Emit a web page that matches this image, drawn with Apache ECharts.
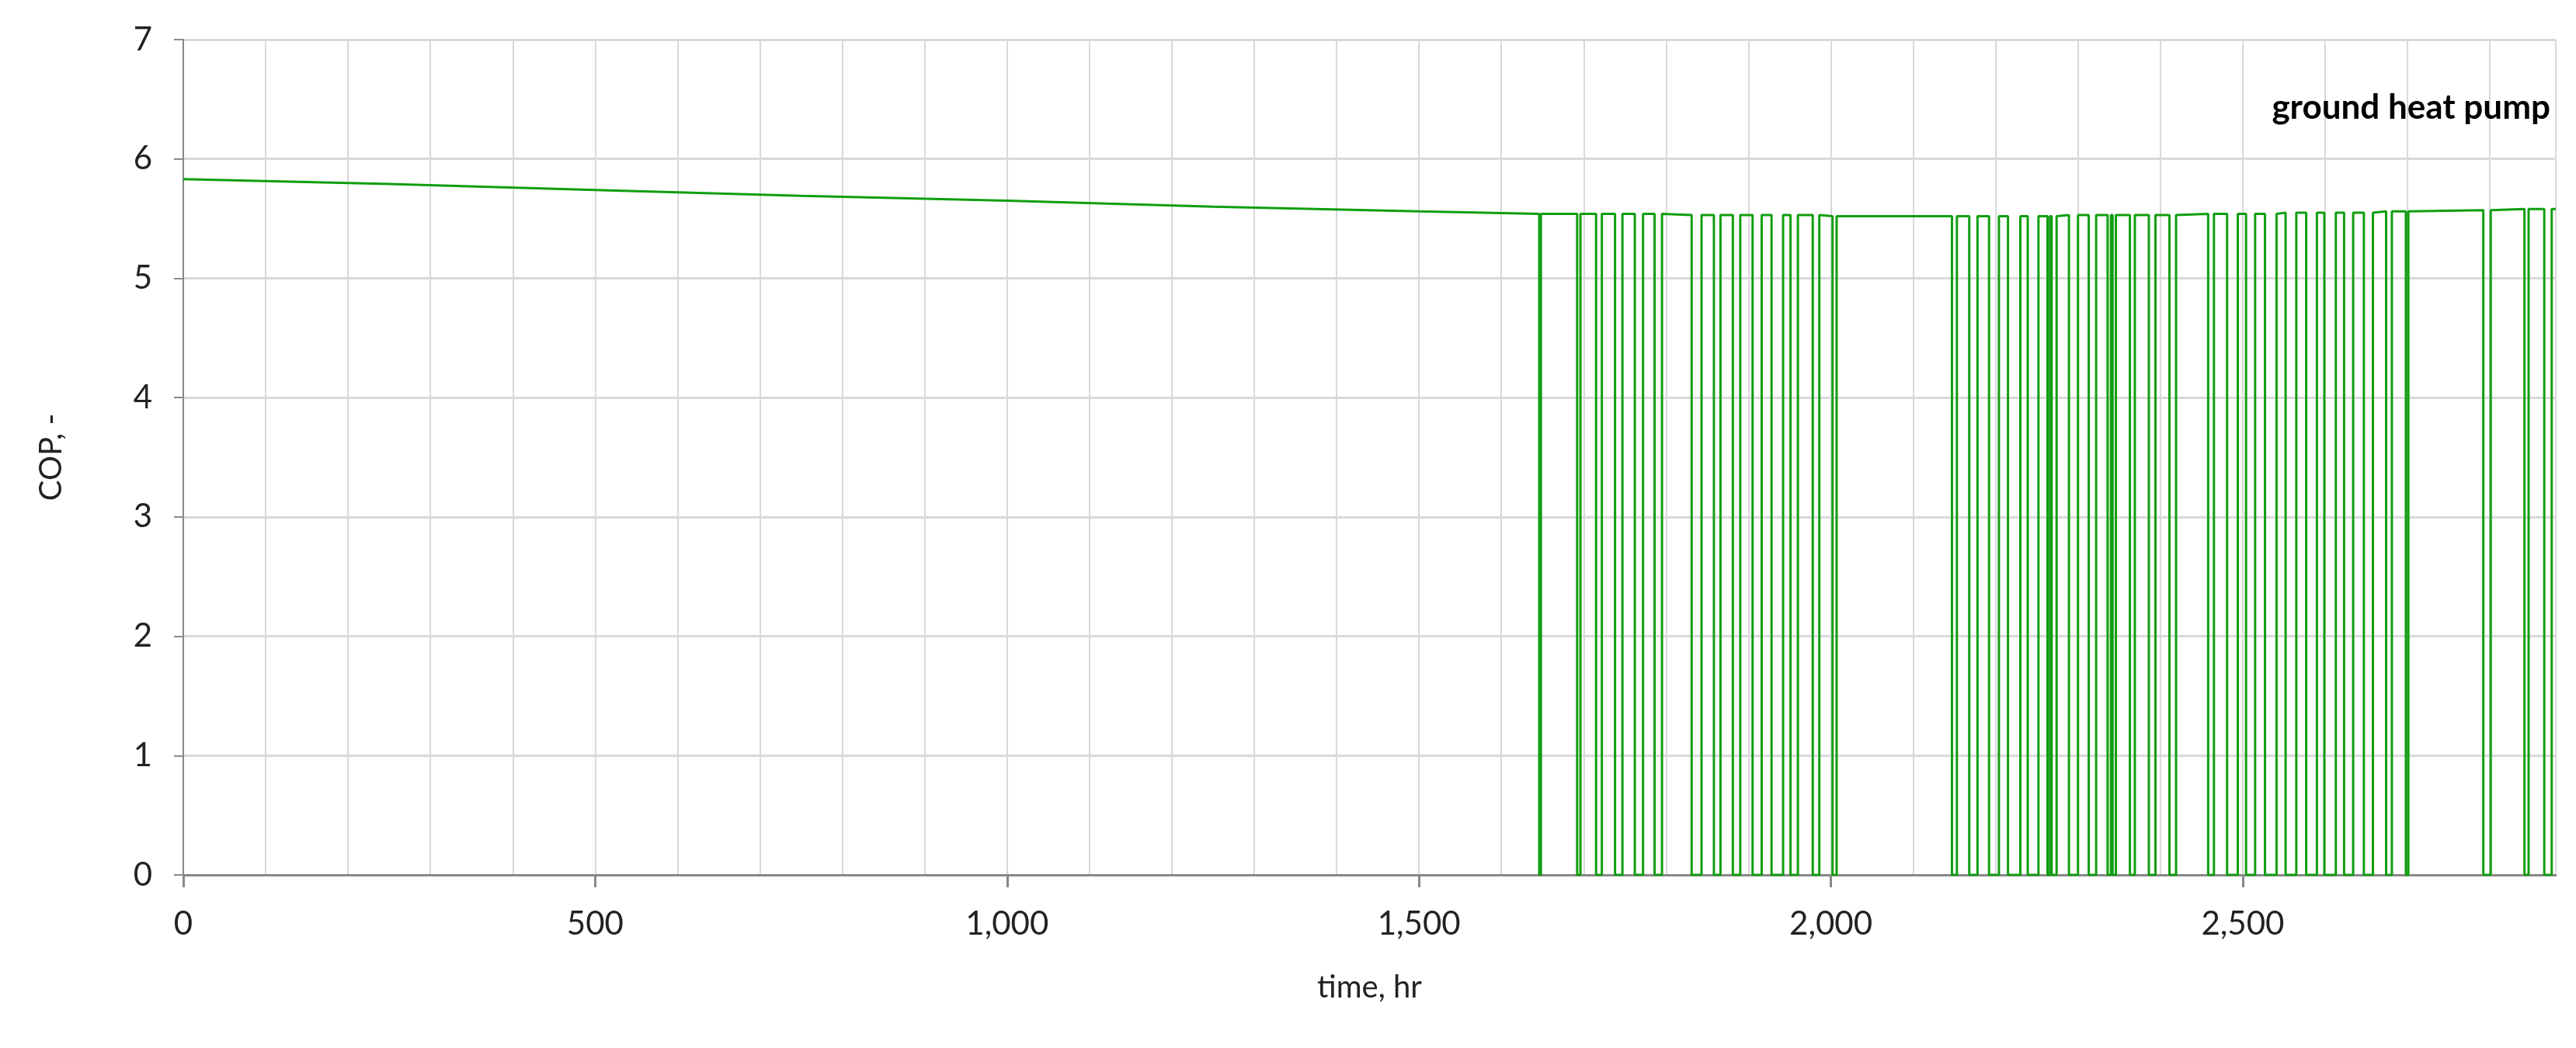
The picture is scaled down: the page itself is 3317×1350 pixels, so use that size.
<!DOCTYPE html>
<html>
<head>
<meta charset="utf-8">
<script src="https://cdn.jsdelivr.net/npm/echarts@6/dist/echarts.min.js"></script>
<style>html,body{margin:0;padding:0;background:#fff}#main{width:3317px;height:1350px}</style>
</head>
<body>
<div id="main"></div>
<script>
// steady part of the COP curve before cycling starts [hr, COP]
var steadyPts = [[0, 5.83], [250, 5.79], [500, 5.74], [750, 5.69], [1000, 5.65], [1250, 5.60], [1500, 5.56], [1646, 5.54]];
// off periods of the heat pump (COP = 0)
var offStart = [1646,1692,1715,1738,1762,1786,1831,1858,1881,1905,1928,1951,1978,2002,2147,2168,2192,2215,2239,2263,2268,2289,2313,2336,2342,2363,2386,2411,2458,2481,2504,2527,2552,2577,2599,2623,2647,2674,2698,2792,2842,2866];
var offEnd   = [1648,1696,1722,1747,1772,1795,1843,1866,1890,1916,1942,1960,1986,2007,2153,2178,2204,2230,2252,2266,2274,2300,2322,2340,2346,2369,2394,2419,2465,2494,2515,2541,2565,2590,2613,2634,2658,2681,2701,2801,2847,2875];
// COP level when running, around each off period
var onLevel  = [5.54,5.54,5.54,5.54,5.54,5.54,5.53,5.53,5.53,5.53,5.53,5.53,5.53,5.52,5.52,5.52,5.52,5.52,5.52,5.52,5.52,5.53,5.53,5.53,5.53,5.53,5.53,5.53,5.54,5.54,5.54,5.54,5.55,5.55,5.55,5.55,5.55,5.56,5.56,5.57,5.58,5.58];
var endPt = [2880, 5.58];

var data = steadyPts.slice(0, steadyPts.length - 1);
for (var i = 0; i < offStart.length; i++) {
  data.push([offStart[i], onLevel[i]]);
  data.push([offStart[i], 0]);
  data.push([offEnd[i], 0]);
  data.push([offEnd[i], onLevel[i]]);
}
data.push(endPt);

var font = 'Lato, "Open Sans", sans-serif';
var chart = echarts.init(document.getElementById('main'));
chart.setOption({
  animation: false,
  title: {
    text: 'ground heat pump', right: 28, top: 112,
    textStyle: {fontFamily: font, fontSize: 44, fontWeight: 'bold', color: '#000'}
  },
  grid: {left: 236, right: 26, top: 51, bottom: 223},
  xAxis: [{
    type: 'value', min: 0, max: 2880, interval: 100,
    name: 'time, hr', nameLocation: 'middle', nameGap: 125,
    nameTextStyle: {fontFamily: font, fontSize: 40, color: '#222'},
    axisLine: {lineStyle: {color: '#888', width: 3}},
    axisTick: {show: false},
    axisLabel: {show: false},
    splitLine: {show: true, lineStyle: {color: '#d9d9d9', width: 2}}
  }, {
    // second axis on the same scale carries the 500 hr ticks and labels
    type: 'value', position: 'bottom', min: 0, max: 2880, interval: 500,
    axisLine: {show: false},
    axisTick: {show: true, length: 16, lineStyle: {color: '#888', width: 3}},
    axisLabel: {fontFamily: font, fontSize: 42, color: '#222', margin: 42, showMaxLabel: false},
    splitLine: {show: false}
  }],
  yAxis: {
    type: 'value', min: 0, max: 7, interval: 1,
    name: 'COP, -', nameLocation: 'middle', nameGap: 150,
    nameTextStyle: {fontFamily: font, fontSize: 40, color: '#222'},
    axisLine: {show: true, lineStyle: {color: '#888', width: 2}},
    axisTick: {show: true, length: 12, lineStyle: {color: '#888', width: 2}},
    axisLabel: {fontFamily: font, fontSize: 42, color: '#222', margin: 40},
    splitLine: {show: true, lineStyle: {color: '#d9d9d9', width: 3}}
  },
  series: [{
    type: 'line', data: data, showSymbol: false,
    lineStyle: {color: '#109e10', width: 3}
  }]
});
</script>
</body>
</html>
